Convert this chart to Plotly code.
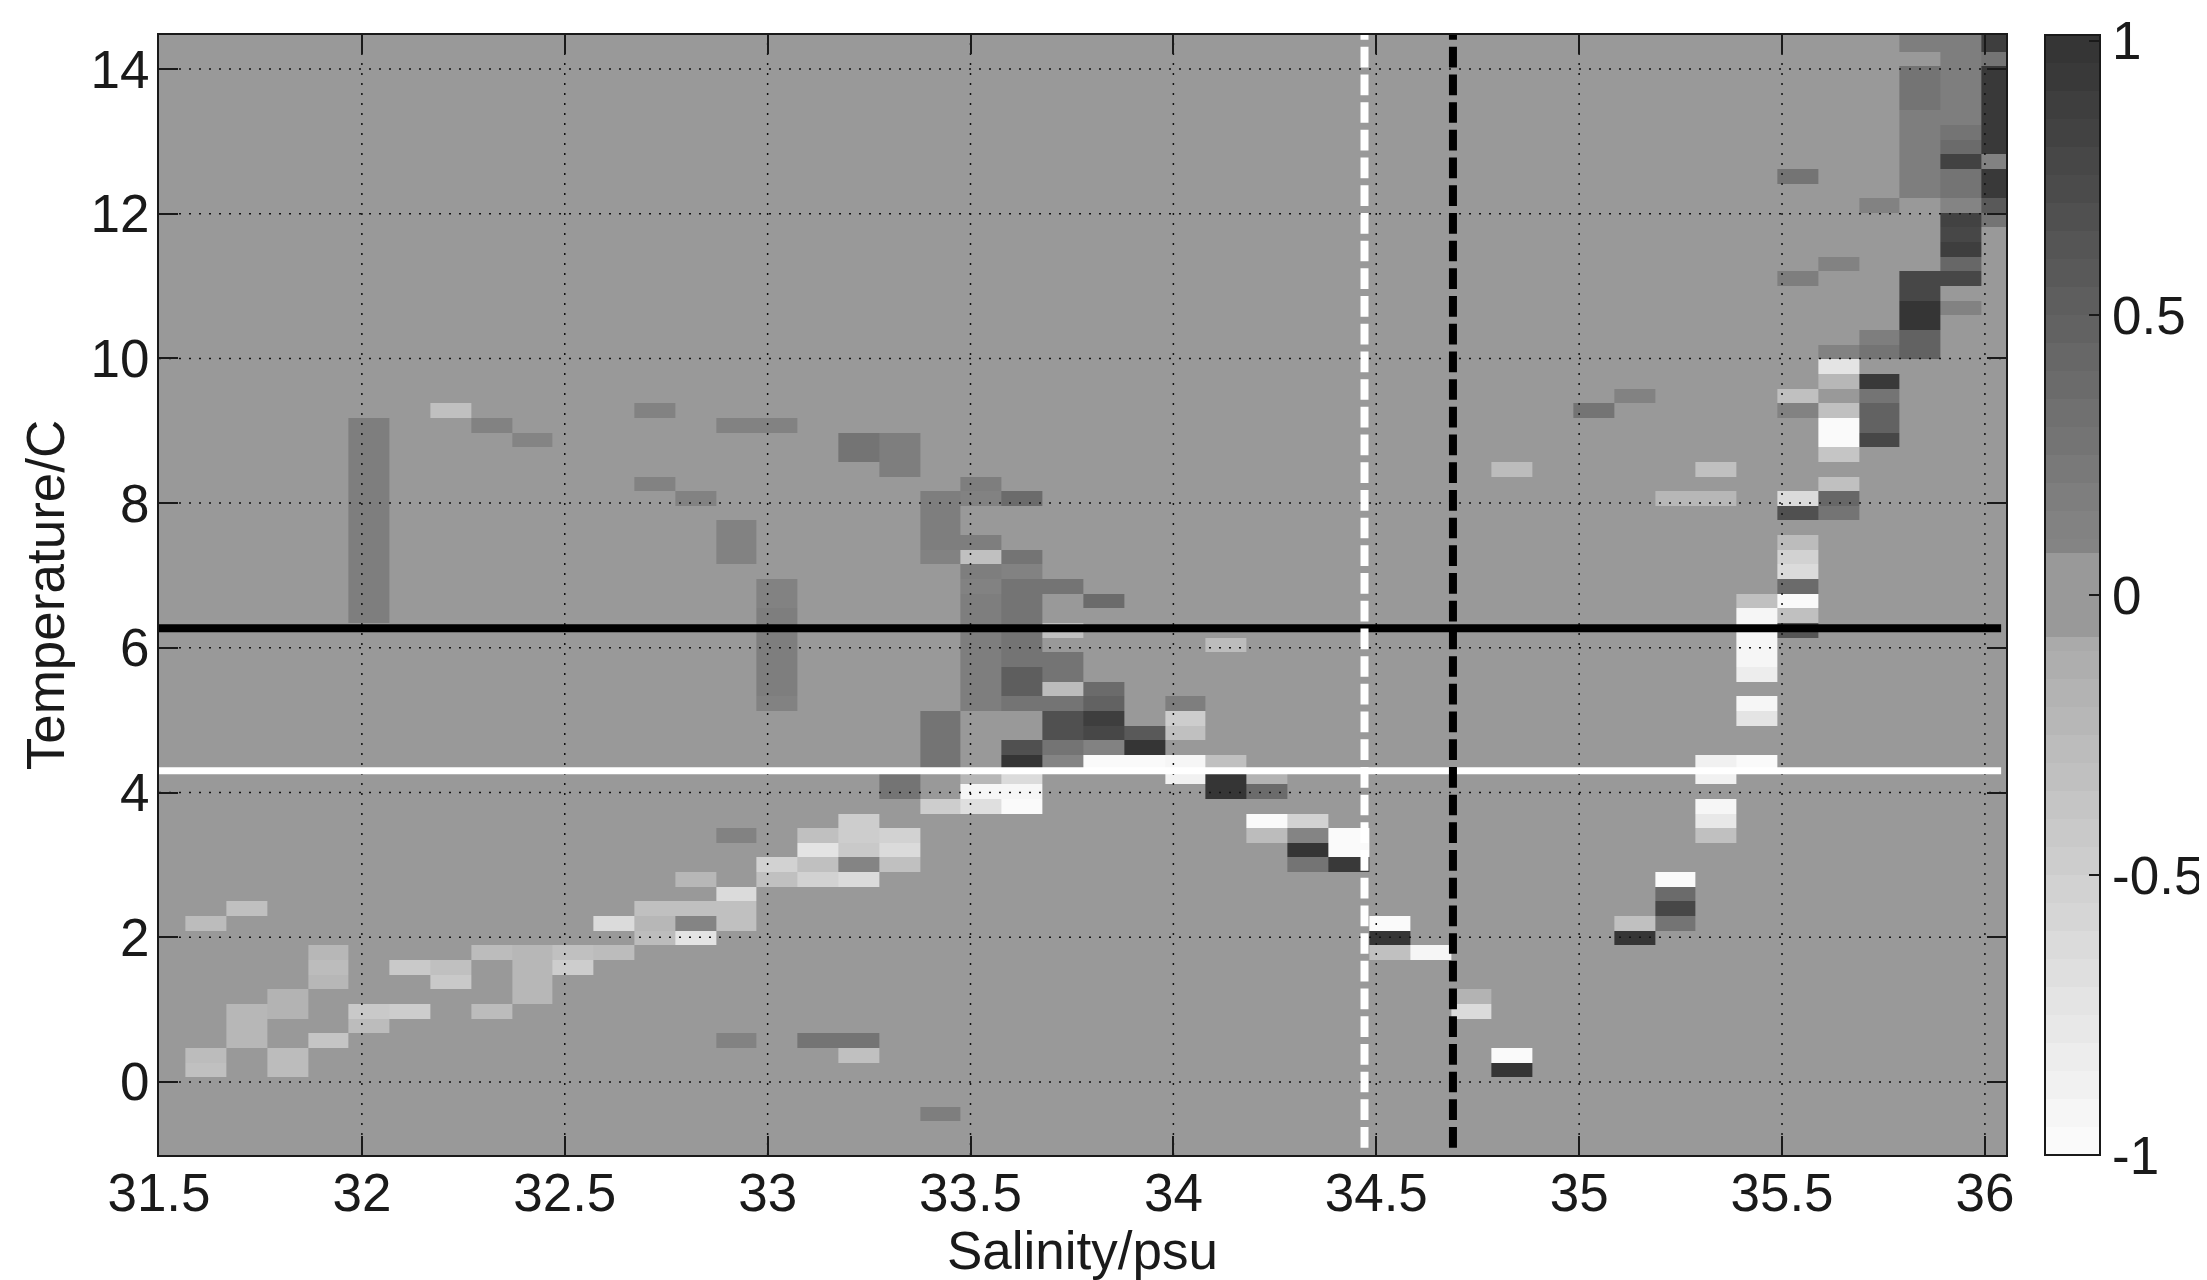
import plotly.graph_objects as go

# ---- grid of the section (salinity / temperature bin edges) ----
sal_edges = [31.565, 31.666, 31.766, 31.867, 31.967, 32.068, 32.169, 32.269, 32.37, 32.47,
             32.571, 32.672, 32.772, 32.873, 32.973, 33.074, 33.175, 33.275, 33.376, 33.476,
             33.577, 33.678, 33.778, 33.879, 33.979, 34.08, 34.181, 34.281, 34.382, 34.482,
             34.583, 34.684, 34.784, 34.885, 34.985, 35.086, 35.187, 35.287, 35.388, 35.488,
             35.589, 35.69, 35.79, 35.891, 35.991, 36.052]
temp_edges = [-0.5425, -0.34, -0.1375, 0.065, 0.2675, 0.47, 0.6725, 0.875, 1.0775, 1.28,
              1.4825, 1.685, 1.8875, 2.09, 2.2925, 2.495, 2.6975, 2.9, 3.1025, 3.305,
              3.5075, 3.71, 3.9125, 4.115, 4.3175, 4.52, 4.7225, 4.925, 5.1275, 5.33,
              5.5325, 5.735, 5.9375, 6.14, 6.3425, 6.545, 6.7475, 6.95, 7.1525, 7.355,
              7.5575, 7.76, 7.9625, 8.165, 8.3675, 8.57, 8.7725, 8.975, 9.1775, 9.38,
              9.5825, 9.785, 9.9875, 10.19, 10.3925, 10.595, 10.7975, 11.0, 11.2025, 11.405,
              11.6075, 11.81, 12.0125, 12.215, 12.4175, 12.62, 12.8225, 13.025, 13.2275, 13.43,
              13.6325, 13.835, 14.0375, 14.24, 14.47]
ROW_OFFSET = 3  # row 0 of the cell tables is temp_edges[3]

# ---- non-zero cells: (salinity bin, temperature bin, value) ----
cells_cold_fresh = [
    (0, 0, -.33), (0, 1, -.27), (0, 10, -.27),
    (1, 2, -.21), (1, 3, -.21), (1, 4, -.21), (1, 11, -.33),
    (2, 0, -.27), (2, 1, -.27), (2, 4, -.16), (2, 5, -.16),
    (3, 2, -.38), (3, 6, -.21), (3, 7, -.27), (3, 8, -.21),
    (4, 3, -.27), (4, 4, -.44),
    (5, 4, -.495), (5, 7, -.44),
    (6, 6, -.44), (6, 7, -.33),
    (7, 4, -.27), (7, 8, -.27),
    (8, 5, -.21), (8, 6, -.21), (8, 7, -.21), (8, 8, -.21),
    (9, 7, -.495), (9, 8, -.33),
    (10, 8, -.27), (10, 10, -.61),
    (11, 9, -.27), (11, 10, -.21), (11, 11, -.33),
    (12, 9, -.72), (12, 10, .09), (12, 11, -.33), (12, 13, -.21),
    (13, 2, .136), (13, 10, -.33), (13, 11, -.33), (13, 12, -.61), (13, 16, .136),
    (14, 13, -.33), (14, 14, -.55),
    (15, 2, .25), (15, 13, -.55), (15, 14, -.33), (15, 15, -.72), (15, 16, -.33),
    (16, 1, -.33), (16, 2, .25), (16, 13, -.61), (16, 14, .09), (16, 15, -.44), (16, 16, -.495), (16, 17, -.495),
    (17, 14, -.33), (17, 15, -.61), (17, 16, -.55),
    (18, -3, .19),
]
cells_warm_fresh = [
    (4, 31, .19), (4, 32, .19), (4, 33, .19), (4, 34, .19), (4, 35, .19), (4, 36, .19), (4, 37, .19),
    (4, 38, .19), (4, 39, .19), (4, 40, .19), (4, 41, .19), (4, 42, .19), (4, 43, .19), (4, 44, .19),
    (6, 45, -.33), (7, 44, .136), (8, 43, .1), (11, 40, .136), (11, 45, .136), (12, 39, .136),
    (13, 35, .136), (13, 36, .136), (13, 37, .136), (13, 44, .136), (14, 44, .136),
    (14, 25, .136), (14, 26, .19), (14, 27, .19), (14, 28, .19), (14, 29, .19), (14, 30, .19),
    (14, 31, .19), (14, 32, .136), (14, 33, .136),
    (16, 42, .25), (16, 43, .25), (17, 41, .19), (17, 42, .19), (17, 43, .19),
    (18, 35, .136), (18, 36, .19), (18, 37, .19), (18, 38, .19), (18, 39, .19),
]
cells_front = [
    (17, 19, .25), (17, 20, .25),
    (18, 18, -.495), (18, 21, .25), (18, 22, .25), (18, 23, .25), (18, 24, .25),
    (19, 18, -.66), (19, 19, -.94), (19, 20, -.21), (19, 25, .19),
    (19, 26, .19), (19, 27, .19), (19, 28, .19), (19, 29, .19), (19, 30, .19), (19, 31, .19),
    (19, 32, .19), (19, 33, .136), (19, 34, .19), (19, 35, -.33), (19, 36, .19), (19, 39, .136), (19, 40, .19),
    (20, 18, -1), (20, 19, -.94), (20, 20, -.61), (20, 21, 1.0), (20, 22, .70),
    (20, 25, .25), (20, 26, .53), (20, 27, .53), (20, 28, .30), (20, 29, .30), (20, 30, .30), (20, 31, .30),
    (20, 32, .25), (20, 33, .25), (20, 34, .136), (20, 35, .30), (20, 39, .36),
    (21, 21, .09), (21, 22, .25), (21, 23, .70), (21, 24, .70), (21, 25, .30), (21, 26, -.27), (21, 27, .25),
    (21, 28, .25), (21, 30, -.33), (21, 33, .25),
    (22, 21, -1), (22, 22, .136), (22, 23, .75), (22, 24, .865), (22, 25, .47), (22, 26, .36), (22, 32, .36),
    (23, 21, -1), (23, 22, 1.0), (23, 23, .585),
    (24, 20, -.89), (24, 21, -.94), (24, 23, -.33), (24, 24, -.495), (24, 25, .19),
    (25, 19, 1.0), (25, 20, 1.0), (25, 21, -.33), (25, 29, -.27),
    (26, 16, -.27), (26, 17, -1), (26, 19, .36), (26, 20, -.16),
    (27, 14, .30), (27, 15, 1.0), (27, 16, .09), (27, 17, -.55),
    (28, 14, .92), (28, 15, -1), (28, 16, -1),
    (29, 8, -.33), (29, 9, .98), (29, 10, -1),
    (30, 8, -.94),
    (31, 4, -.61), (31, 5, -.16),
    (32, 0, .98), (32, 1, -1),
]
cells_saline = [
    (32, 41, -.27), (34, 45, .25),
    (35, 9, 1.0), (35, 10, -.33), (35, 46, .136),
    (36, 10, .30), (36, 11, .75), (36, 12, .36), (36, 13, -1), (36, 39, -.21),
    (37, 16, -.33), (37, 17, -.775), (37, 18, -.94), (37, 20, -.89), (37, 21, -.89), (37, 39, -.21), (37, 41, -.33),
    (38, 21, -1), (38, 24, -.72), (38, 25, -.94), (38, 27, -.83), (38, 28, -.94), (38, 29, -.94), (38, 30, -.94), (38, 31, -.94), (38, 32, -.33),
    (39, 30, .64), (39, 31, -.33), (39, 32, -1), (39, 33, .36), (39, 34, -.61), (39, 35, -.55), (39, 36, -.27),
    (39, 38, .70), (39, 39, -.61), (39, 45, .136), (39, 46, -.33), (39, 54, .19), (39, 61, .25),
    (40, 38, .30), (40, 39, .42), (40, 40, -.33), (40, 42, -.38), (40, 43, -1), (40, 44, -1), (40, 45, -.33),
    (40, 47, -.21), (40, 48, -.72), (40, 49, .136), (40, 55, .136),
]
cells_warm_saline = [
    (41, 43, .75), (41, 44, .47), (41, 45, .47), (41, 46, .25), (41, 47, .92), (41, 49, .30), (41, 50, .19), (41, 59, .136),
    (42, 49, .47), (42, 50, .47), (42, 51, .98), (42, 52, .98), (42, 53, .75), (42, 54, .75),
    (42, 60, .19), (42, 61, .19), (42, 62, .19), (42, 63, .19), (42, 64, .19), (42, 65, .19), (42, 66, .25),
    (42, 67, .25), (42, 68, .25), (42, 70, .19),
    (43, 52, .136), (43, 54, .75), (43, 55, .42), (43, 56, .865), (43, 57, .75), (43, 58, .81), (43, 59, .1),
    (43, 60, .25), (43, 61, .25), (43, 62, .81), (43, 63, .36), (43, 64, .25), (43, 65, .19), (43, 66, .19),
    (43, 67, .19), (43, 68, .19), (43, 69, .19), (43, 70, .19),
    (44, 58, .25), (44, 59, .585), (44, 60, .92), (44, 61, .92), (44, 62, .136), (44, 63, .92), (44, 64, .92),
    (44, 65, .92), (44, 66, .92), (44, 67, .92), (44, 68, .92), (44, 69, .25), (44, 70, .865),
]

# ---- reference lines and axes ----
black_temp = 6.27
white_temp = 4.30
white_sal = 34.471
black_sal = 34.689
x_ticks = [31.5, 32, 32.5, 33, 33.5, 34, 34.5, 35, 35.5, 36]
x_labels = ["31.5", "32", "32.5", "33", "33.5", "34", "34.5", "35", "35.5", "36"]
y_ticks = [0, 2, 4, 6, 8, 10, 12, 14]
bar_ticks = [-1, -0.5, 0, 0.5, 0.99]  # the top tick sits just inside the bar so it is not dropped
bar_labels = ["-1", "-0.5", "0", "0.5", "1"]
x_range = [31.5, 36.052]
y_range = [-1.01, 14.47]

# ---- assemble ----
z = [[0.0] * (len(sal_edges) - 1) for _ in range(len(temp_edges) - 1)]
for table in (cells_cold_fresh, cells_warm_fresh, cells_front, cells_saline, cells_warm_saline):
    for col, row, val in table:
        z[row + ROW_OFFSET][col] = val


def gray(g):
    return f"rgb({g},{g},{g})"


# stepped gray scale with a flat band round zero
neg_edges = [-1 + 0.05 * i for i in range(19)] + [-0.075]
pos_edges = [0.075] + [0.1 + 0.05 * i for i in range(19)]
scale = []
def add_band(lo, hi, g):
    scale.append([(lo + 1) / 2, gray(g)])
    scale.append([(hi + 1) / 2, gray(g)])
for lo, hi in zip(neg_edges[:-1], neg_edges[1:]):
    add_band(lo, hi, round(168 + (-lo - 0.08) / 0.92 * 82))
add_band(-0.075, 0.075, 153)
for lo, hi in zip(pos_edges[:-1], pos_edges[1:]):
    add_band(lo, hi, round(132 - (lo - 0.08) / 0.92 * 84))
scale[0][0] = 0.0
scale[-1][0] = 1.0

FONT = "Liberation Sans, Arial, sans-serif"
INK = "#1a1a1a"
# the page has an 8 px body margin, so everything is laid out 8 px in from the window corner
PAGE = 8
W, H = 2207 - PAGE, 1280 - PAGE
L, R, T, B = 159 - PAGE, 2006 - PAGE, 35 - PAGE, 1155 - PAGE

fig = go.Figure()
fig.add_trace(go.Heatmap(
    x=sal_edges, y=temp_edges, z=z, zmin=-1, zmax=1, colorscale=scale, hoverinfo="skip",
    colorbar=dict(
        x=(2045 - PAGE - L) / (R - L), xanchor="left", xref="paper", y=0.5, yanchor="middle", yref="paper",
        len=1.0, lenmode="fraction", thickness=55, thicknessmode="pixels", xpad=0, ypad=0,
        outlinecolor=INK, outlinewidth=2,
        tickmode="array", tickvals=bar_ticks, ticktext=bar_labels, ticks="inside", ticklen=12,
        tickwidth=1.5, tickcolor=INK, tickfont=dict(family=FONT, size=53, color=INK),
    ),
))

# dotted grid over the image
grid_x, grid_y = [], []
for t in x_ticks[1:]:
    grid_x += [t, t, None]
    grid_y += [y_range[0], y_range[1], None]
for t in y_ticks:
    grid_x += [x_range[0], x_range[1], None]
    grid_y += [t, t, None]
fig.add_trace(go.Scatter(x=grid_x, y=grid_y, mode="lines", hoverinfo="skip",
                         line=dict(color="#111111", width=1.5, dash="2px,8px")))

fig.add_trace(go.Scatter(x=[31.5, 36.04], y=[black_temp, black_temp], mode="lines", hoverinfo="skip",
                         line=dict(color="black", width=8)))
fig.add_trace(go.Scatter(x=[31.5, 36.04], y=[white_temp, white_temp], mode="lines", hoverinfo="skip",
                         line=dict(color="white", width=7)))
fig.add_trace(go.Scatter(x=[white_sal, white_sal], y=[-0.91, 14.47], mode="lines", hoverinfo="skip",
                         line=dict(color="white", width=8, dash="20.7px,7px")))
fig.add_trace(go.Scatter(x=[black_sal, black_sal], y=[-0.91, 14.47], mode="lines", hoverinfo="skip",
                         line=dict(color="black", width=8, dash="20.7px,7px")))

axis_common = dict(
    showgrid=False, zeroline=False, showline=True, linecolor=INK, linewidth=2, mirror="ticks",
    ticks="inside", ticklen=19, tickwidth=2, tickcolor=INK, layer="above traces",
    tickfont=dict(family=FONT, size=53, color=INK),
)
fig.update_layout(
    width=W, height=H, showlegend=False, hovermode=False,
    paper_bgcolor="white", plot_bgcolor=gray(153),
    margin=dict(l=L, r=W - R, t=T, b=H - B, pad=0, autoexpand=False),
    xaxis=dict(range=x_range, tickmode="array", tickvals=x_ticks, ticktext=x_labels,
               title=dict(text="Salinity/psu", font=dict(family=FONT, size=53, color=INK), standoff=5),
               ticklabelstandoff=-10, **axis_common),
    yaxis=dict(range=y_range, tickmode="array", tickvals=y_ticks,
               title=dict(text="Temperature/C", font=dict(family=FONT, size=53, color=INK), standoff=9),
               ticklabelstandoff=-3, **axis_common),
)
fig.write_html("out.html")
